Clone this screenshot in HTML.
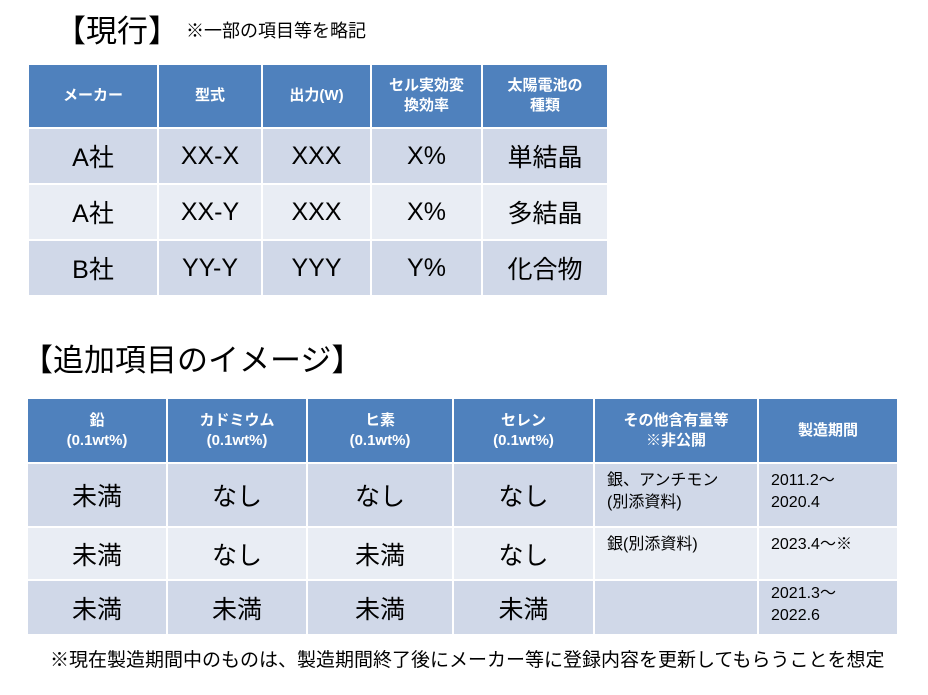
<!DOCTYPE html>
<html><head><meta charset="utf-8"><style>
body{margin:0;width:928px;height:695px;background:#fff;position:relative;overflow:hidden;font-family:"Liberation Sans","Noto Sans CJK JP",sans-serif;color:#000}
.a{position:absolute;white-space:nowrap}
table{position:absolute;border-collapse:collapse;table-layout:fixed}
td{border:2px solid #fff;text-align:center;padding:0}
th{border:2px solid #fff;background:#4f81bd;color:#fff;font-weight:bold;font-size:15px;line-height:20px;padding:0}
.r1 td{background:#d0d8e8}
.r2 td{background:#e9edf4}
td{font-size:25px}
td.s{font-size:16px;text-align:left;vertical-align:top;padding:6px 0 0 12px;line-height:22px}
</style></head><body>
<div class="a" style="left:55px;top:12px;font-size:31px;line-height:40px">【現行】</div>
<div class="a" style="left:186px;top:19px;font-size:18px;line-height:24px">※一部の項目等を略記</div>
<table style="left:27px;top:63px;width:580px">
<colgroup><col style="width:130px"><col style="width:104px"><col style="width:109px"><col style="width:111px"><col style="width:126px"></colgroup>
<tr style="height:64px"><th>メーカー</th><th>型式</th><th>出力(W)</th><th>セル実効変<br>換効率</th><th>太陽電池の<br>種類</th></tr>
<tr class="r1" style="height:56px"><td>A社</td><td>XX-X</td><td>XXX</td><td>X%</td><td>単結晶</td></tr>
<tr class="r2" style="height:56px"><td>A社</td><td>XX-Y</td><td>XXX</td><td>X%</td><td>多結晶</td></tr>
<tr class="r1" style="height:56px"><td>B社</td><td>YY-Y</td><td>YYY</td><td>Y%</td><td>化合物</td></tr>
</table>
<div class="a" style="left:22px;top:340px;font-size:31px;line-height:42px">【追加項目のイメージ】</div>
<table style="left:26px;top:397px;width:871px">
<colgroup><col style="width:140px"><col style="width:140px"><col style="width:146px"><col style="width:141px"><col style="width:164px"><col style="width:140px"></colgroup>
<tr style="height:65px"><th>鉛<br>(0.1wt%)</th><th>カドミウム<br>(0.1wt%)</th><th>ヒ素<br>(0.1wt%)</th><th>セレン<br>(0.1wt%)</th><th>その他含有量等<br>※非公開</th><th>製造期間</th></tr>
<tr class="r1" style="height:64px"><td>未満</td><td>なし</td><td>なし</td><td>なし</td><td class="s">銀、アンチモン<br>(別添資料)</td><td class="s">2011.2～<br>2020.4</td></tr>
<tr class="r2" style="height:53px"><td>未満</td><td>なし</td><td>未満</td><td>なし</td><td class="s">銀(別添資料)</td><td class="s">2023.4～※</td></tr>
<tr class="r1" style="height:55px"><td>未満</td><td>未満</td><td>未満</td><td>未満</td><td class="s"></td><td class="s" style="padding-top:2px">2021.3～<br>2022.6</td></tr>
</table>
<div class="a" style="left:50px;top:648px;font-size:19px;line-height:26px">※現在製造期間中のものは、製造期間終了後にメーカー等に登録内容を更新してもらうことを想定</div>
</body></html>
